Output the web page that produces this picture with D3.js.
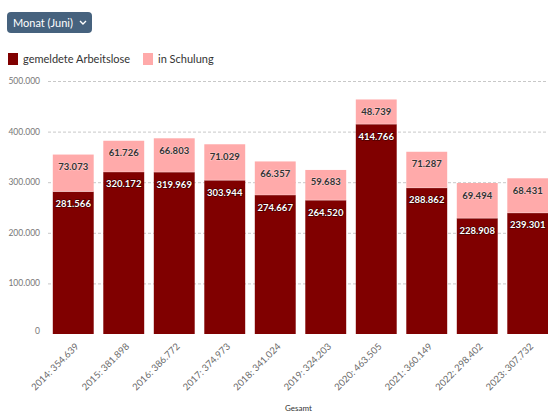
<!DOCTYPE html>
<html>
<head>
<meta charset="utf-8">
<script src="https://cdn.jsdelivr.net/npm/d3@7"></script>
<style>
  body { margin: 0; background: #fff; }
  svg { display: block; font-family: Lato, "Open Sans", sans-serif; }
</style>
</head>
<body>
<svg id="chart"></svg>
<script>
// data
var years = ["2014", "2015", "2016", "2017", "2018", "2019", "2020", "2021", "2022", "2023"];
var arbeitslose = [281566, 320172, 319969, 303944, 274667, 264520, 414766, 288862, 228908, 239301];
var schulung = [73073, 61726, 66803, 71029, 66357, 59683, 48739, 71287, 69494, 68431];
var yTicks = [0, 100000, 200000, 300000, 400000, 500000];
var seriesNames = ["gemeldete Arbeitslose", "in Schulung"];
var colors = ["#800000", "#ffaaaa"];

var width = 548, height = 414;
var fmt = function(v) { return d3.format(",")(v).replace(/,/g, "."); };

var svg = d3.select("#chart")
    .attr("width", width)
    .attr("height", height);

// button
var btn = svg.append("g").attr("transform", "translate(7,12)");
btn.append("rect")
    .attr("width", 85).attr("height", 21).attr("rx", 4)
    .attr("fill", "#46627e");
btn.append("text")
    .attr("x", 6).attr("y", 14.5)
    .attr("fill", "#fff")
    .style("font-size", "11px")
    .text("Monat (Juni)");
btn.append("path")
    .attr("d", "M73,9 L76,12 L79,9")
    .attr("fill", "none").attr("stroke", "#fff").attr("stroke-width", 1.4);

// legend
var legend = svg.append("g");
var legX = [8, 143];
seriesNames.forEach(function(name, i) {
  legend.append("rect")
      .attr("x", legX[i]).attr("y", 53)
      .attr("width", 10).attr("height", 12)
      .attr("fill", colors[i]);
  legend.append("text")
      .attr("x", legX[i] + 15).attr("y", 63)
      .attr("fill", "#333")
      .style("font-size", "11px")
      .text(name);
});

// scales
var x = d3.scaleBand()
    .domain(years)
    .range([48, 553])
    .paddingInner(0.19)
    .paddingOuter(0.095);

var y = d3.scaleLinear()
    .domain([0, 500000])
    .range([334, 81]);

// grid lines
svg.append("g")
  .selectAll("line")
  .data(yTicks.filter(function(d) { return d > 0; }))
  .enter()
  .append("line")
    .attr("x1", 48).attr("x2", width)
    .attr("y1", function(d) { return y(d) + 0.5; })
    .attr("y2", function(d) { return y(d) + 0.5; })
    .attr("stroke", "#c8c8c8")
    .attr("stroke-dasharray", "3,2");

// y axis labels
svg.append("g")
  .selectAll("text")
  .data(yTicks)
  .enter()
  .append("text")
    .attr("x", 40)
    .attr("y", function(d) { return y(d); })
    .attr("dy", d => d === 0 ? "-0.05em" : "0.35em")
    .attr("text-anchor", "end")
    .attr("fill", "#777")
    .style("font-size", "8.5px")
    .text(fmt);

// stacked bars
var data = years.map(function(yr, i) {
  return { year: yr, a: arbeitslose[i], s: schulung[i] };
});

var bars = svg.append("g");
data.forEach(function(d) {
  bars.append("rect")
      .attr("x", x(d.year)).attr("width", x.bandwidth())
      .attr("y", y(d.a)).attr("height", y(0) - y(d.a))
      .attr("fill", colors[0]);
  bars.append("rect")
      .attr("x", x(d.year)).attr("width", x.bandwidth())
      .attr("y", y(d.a + d.s)).attr("height", y(d.a) - y(d.a + d.s))
      .attr("fill", colors[1]);
  bars.append("line")
      .attr("x1", x(d.year)).attr("x2", x(d.year) + x.bandwidth())
      .attr("y1", y(d.a)).attr("y2", y(d.a))
      .attr("stroke", "#fff").attr("stroke-opacity", 0.5).attr("stroke-width", 0.6);
});

// value labels
var labels = svg.append("g")
    .attr("text-anchor", "middle")
    .style("font-size", "9.5px")
    .style("font-weight", "bold");

data.forEach(function(d) {
  var cx = x(d.year) + x.bandwidth() / 2;
  labels.append("text")
      .attr("x", cx).attr("y", y(d.a + d.s) + 15.5)
      .attr("fill", "#333")
      .attr("stroke", "#fff").attr("stroke-width", 1.2).attr("stroke-opacity", 0.35)
      .attr("paint-order", "stroke")
      .text(fmt(d.s));
  labels.append("text")
      .attr("x", cx).attr("y", y(d.a) + 15.5)
      .attr("fill", "#fff")
      .attr("stroke", "#000").attr("stroke-width", 1.5).attr("stroke-opacity", 0.45)
      .attr("paint-order", "stroke")
      .text(fmt(d.a));
});

// x axis labels, rotated
svg.append("g")
  .selectAll("text")
  .data(data)
  .enter()
  .append("text")
    .attr("transform", function(d) {
      return "translate(" + (x(d.year) + x.bandwidth() / 2 + 2) + ",343) rotate(-45)";
    })
    .attr("text-anchor", "end")
    .attr("dy", "0.6em")
    .attr("fill", "#6b6b6b")
    .style("font-size", "9.5px")
    .text(function(d) { return d.year + ": " + fmt(d.a + d.s); });

// axis title
svg.append("text")
    .attr("x", 285).attr("y", 411)
    .attr("fill", "#333")
    .style("font-size", "8px")
    .text("Gesamt");
</script>
</body>
</html>
